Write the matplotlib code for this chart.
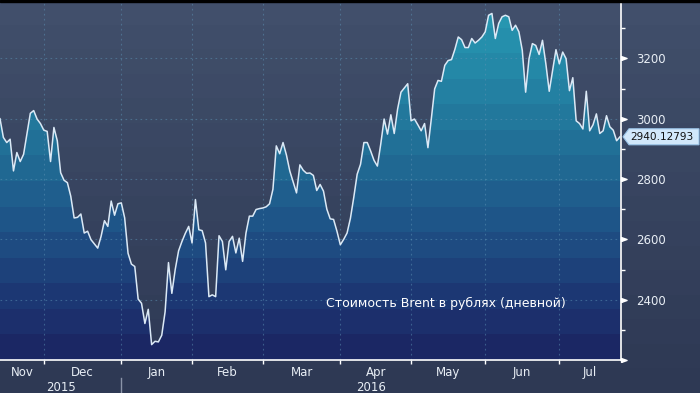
import numpy as np
import pandas as pd
import matplotlib
matplotlib.use('Agg')
import matplotlib.pyplot as plt
import matplotlib.transforms as mtransforms
from matplotlib.colors import LinearSegmentedColormap
from matplotlib.patches import Polygon, Rectangle
from matplotlib.path import Path

# daily values, one list per month (business days)
nov = [3000, 2938, 2921, 2932, 2827, 2888, 2858, 2882, 2949, 3018, 3027, 2999, 2984]
dec = [2962, 2958, 2858, 2971, 2927, 2821, 2796, 2788, 2743, 2671, 2673, 2684, 2621, 2627, 2599, 2585,
       2571, 2610, 2662, 2643, 2727, 2680, 2718]
jan = [2721, 2671, 2554, 2518, 2510, 2402, 2388, 2321, 2368, 2251, 2262, 2260, 2282, 2360, 2523, 2421,
       2500, 2562, 2593, 2620, 2643]
feb = [2588, 2732, 2632, 2629, 2588, 2410, 2416, 2410, 2612, 2593, 2499, 2593, 2610, 2555, 2604, 2527,
       2621, 2677, 2677, 2699, 2702]
mar = [2704, 2708, 2718, 2766, 2910, 2884, 2921, 2880, 2827, 2790, 2754, 2847, 2829, 2819, 2820, 2812,
       2762, 2782, 2760, 2700, 2668, 2666, 2627]
apr = [2582, 2600, 2621, 2670, 2740, 2816, 2849, 2921, 2921, 2893, 2862, 2843, 2916, 2999, 2949, 3013,
       2951, 3032, 3088, 3102, 3116]
may = [2993, 2999, 2980, 2960, 2984, 2904, 2999, 3099, 3127, 3124, 3177, 3193, 3196, 3230, 3271, 3262,
       3236, 3236, 3266, 3251, 3260, 3271]
jun = [3288, 3343, 3349, 3266, 3316, 3338, 3343, 3338, 3293, 3310, 3288, 3227, 3088, 3199, 3249, 3243,
       3213, 3260, 3182, 3091, 3160, 3229]
jul = [3182, 3221, 3199, 3093, 3136, 2993, 2984, 2966, 3091, 2960, 2980, 3016, 2951, 2960, 3010, 2973,
       2962, 2927, 2940.12793]

month_names = ['Nov', 'Dec', 'Jan', 'Feb', 'Mar', 'Apr', 'May', 'Jun', 'Jul']
years = ['2015', '2016']
y_ticks = [2200, 2400, 2600, 2800, 3000, 3200]
y_minor = [2300, 2500, 2700, 2900, 3100, 3300]
titulo = 'Стоимость Brent в рублях (дневной)'

values = np.array(nov + dec + jan + feb + mar + apr + may + jun + jul)
dates = pd.bdate_range('2015-11-12', periods=len(values))
x = np.arange(len(values))
n = len(values)

W, H = 700, 393
fig = plt.figure(figsize=(W / 100, H / 100), dpi=100)

# banded background over the whole picture
bg = fig.add_axes([0, 0, 1, 1])
bg.axis('off')
bg_cmap = LinearSegmentedColormap.from_list('bg', ['#414f6b', '#2e3954'])
bg.imshow(np.linspace(0, 1, 16).reshape(-1, 1), cmap=bg_cmap, aspect='auto',
          extent=[0, 1, 0, 1], origin='upper', interpolation='nearest')
fig.add_artist(Rectangle((0, 1 - 2 / H), 1, 2 / H, transform=fig.transFigure, color='black'))

ax = fig.add_axes([0, 33 / H, 621 / W, 358 / H])
ax.patch.set_alpha(0)
ymin, ymax = 2200, 3387
xmax = n - 1 + 0.3

# area under the line, filled with stepped gradient
verts = [(0, ymin)] + list(zip(x, values)) + [(x[-1], ymin), (0, ymin)]
area = Polygon(verts, closed=True, facecolor='none', edgecolor='none')
ax.add_patch(area)
fill_cmap = LinearSegmentedColormap.from_list(
    'fill', [(0, '#1b2461'), (0.2, '#1d3a76'), (0.4, '#1f5789'), (0.6, '#217097'),
             (0.8, '#2486a6'), (1, '#289ab3')])
nbands = 14
levels = (np.arange(nbands) + 0.5) / nbands
im = ax.imshow(levels[::-1].reshape(-1, 1), cmap=fill_cmap, vmin=0, vmax=1, aspect='auto',
               extent=[0, xmax, ymin, ymax], origin='upper', interpolation='nearest', zorder=1)
im.set_clip_path(area)

ax.plot(x, values, color='#dbe9f6', lw=1.1, zorder=3)
ax.set_xlim(0, xmax)
ax.set_ylim(ymin, ymax)

# month boundaries
month_start = [0] + [i for i in range(1, n) if dates[i].month != dates[i - 1].month]
bounds = month_start + [xmax]
mids = [(bounds[i] + bounds[i + 1]) / 2 for i in range(len(month_start))]

ax.set_axisbelow('line')
ax.set_xticks(month_start[1:])
ax.set_xticklabels([''] * (len(month_start) - 1))
ax.set_xticks(mids, minor=True)
ax.set_xticklabels(month_names, minor=True)
ax.tick_params(axis='x', which='major', length=3, width=1, color='white', direction='out')
ax.tick_params(axis='x', which='minor', length=0, pad=4, labelsize=8.5, labelcolor='#e8eef5')

ax.yaxis.tick_right()
ax.set_yticks(y_ticks)
ax.set_yticklabels([''] + [str(v) for v in y_ticks[1:]])
ax.set_yticks(y_minor, minor=True)
ax.tick_params(axis='y', which='major', length=0, pad=11, labelsize=8.5, labelcolor='#e8eef5')
ax.tick_params(axis='y', which='minor', length=3, width=1, color='white', direction='out')

ax.grid(True, which='major', color='#5d93b5', alpha=0.5, linestyle=(0, (1.5, 3)), lw=0.8)

for s in ['top', 'left']:
    ax.spines[s].set_visible(False)
for s in ['right', 'bottom']:
    ax.spines[s].set_color('white')
    ax.spines[s].set_linewidth(1.2)

# little arrow heads on the major y ticks
tri = Path([(0, -0.35), (0, 0.35), (1, 0), (0, -0.35)])
tr_y = mtransforms.blended_transform_factory(ax.transAxes, ax.transData)
ax.plot([1] * len(y_ticks), y_ticks, transform=tr_y, marker=tri, ms=8, color='white',
        linestyle='none', clip_on=False, zorder=4)

# years below the months
tr_x = mtransforms.blended_transform_factory(ax.transData, ax.transAxes)
ax.text((0 + month_start[2]) / 2, -0.076, years[0], transform=tr_x, ha='center', va='center',
        fontsize=8.5, color='#e8eef5')
ax.text((month_start[2] + xmax) / 2, -0.076, years[1], transform=tr_x, ha='center', va='center',
        fontsize=8.5, color='#e8eef5')
ax.plot([month_start[2]] * 2, [-0.05, -0.1], transform=tr_x, color='#8a94a8', lw=1, clip_on=False)

ax.text(0.525, 0.159, titulo, transform=ax.transAxes, color='white', fontsize=9, va='center')

# last value label
yc = ax.transData.transform((0, values[-1]))[1]
box = [(623, yc), (629, yc + 8), (699, yc + 8), (699, yc - 8), (629, yc - 8)]
box = [(px / W, py / H) for px, py in box]
fig.add_artist(Polygon(box, closed=True, transform=fig.transFigure, facecolor='#d2e8fb',
                       edgecolor='#9cc6ea', lw=0.8))
fig.text(630 / W, yc / H, f'{values[-1]:.5f}', color='#111111', fontsize=7.6, va='center', ha='left')

fig.savefig('out.png', dpi=100)
